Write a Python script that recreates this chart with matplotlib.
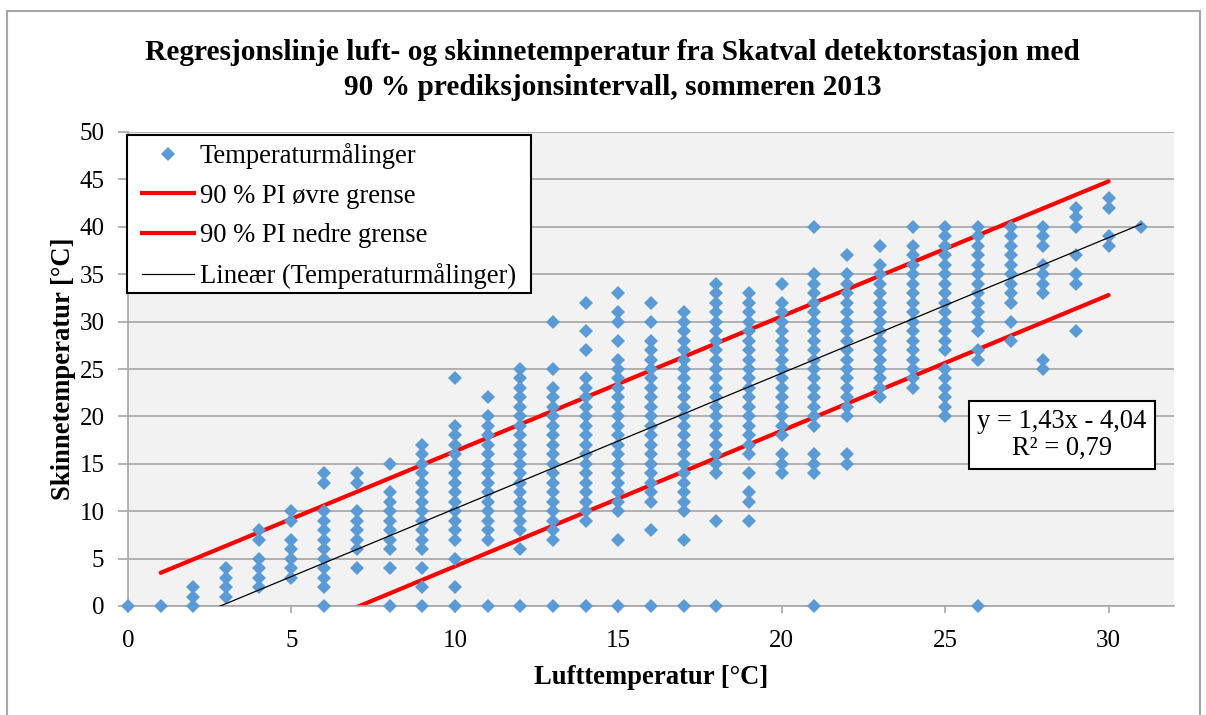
import matplotlib.pyplot as plt
from matplotlib.lines import Line2D
from matplotlib.patches import Rectangle

plt.rcParams['font.family'] = ['Liberation Serif', 'DejaVu Serif']

# luft-temperatur (x) og tilhorende skinnetemperaturer (y) lest av figuren
air_temps = [0, 1, 2, 3, 4, 5, 6, 7, 8, 9, 10, 11, 12, 13, 14, 15,
             16, 17, 18, 19, 20, 21, 22, 23, 24, 25, 26, 27, 28, 29, 30, 31]
rail_temps = [
    [0],
    [0],
    [2, 1, 0],
    [4, 3, 2, 1],
    [8, 7, 5, 4, 3, 2],
    [10, 9, 7, 6, 5, 4, 3],
    [14, 13, 10, 9, 8, 7, 6, 5, 4, 3, 2, 0],
    [14, 13, 10, 9, 8, 7, 6, 4],
    [15, 12, 11, 10, 9, 8, 7, 6, 4, 0],
    [17, 16, 15, 14, 13, 12, 11, 10, 9, 8, 7, 6, 4, 2, 0],
    [24, 19, 18, 17, 16, 15, 14, 13, 12, 11, 10, 9, 8, 7, 5, 2, 0],
    [22, 20, 19, 18, 17, 16, 15, 14, 13, 12, 11, 10, 9, 8, 7, 0],
    [25, 24, 23, 22, 21, 20, 19, 18, 17, 16, 15, 14, 13, 12, 11, 10, 9, 8, 6, 0],
    [30, 25, 23, 22, 21, 20, 19, 18, 17, 16, 15, 14, 13, 12, 11, 10, 9, 8, 7, 0],
    [32, 29, 27, 24, 23, 22, 21, 20, 19, 18, 17, 16, 15, 14, 13, 12, 11, 10, 9, 0],
    [33, 31, 30, 28, 26, 25, 24, 23, 22, 21, 20, 19, 18, 17, 16, 15, 14, 13, 12, 11, 10, 7, 0],
    [32, 30, 28, 27, 26, 25, 24, 23, 22, 21, 20, 19, 18, 17, 16, 15, 14, 13, 12, 11, 8, 0],
    [31, 30, 29, 28, 27, 26, 25, 24, 23, 22, 21, 20, 19, 18, 17, 16, 15, 14, 13, 12, 11, 10, 7, 0],
    [34, 33, 32, 31, 30, 29, 28, 27, 26, 25, 24, 23, 22, 21, 20, 19, 18, 17, 16, 15, 14, 9, 0],
    [33, 32, 31, 30, 29, 28, 27, 26, 25, 24, 23, 22, 21, 20, 19, 18, 17, 16, 14, 12, 11, 9],
    [34, 32, 31, 30, 29, 28, 27, 26, 25, 24, 23, 22, 21, 20, 19, 18, 16, 15, 14],
    [40, 35, 34, 33, 32, 31, 30, 29, 28, 27, 26, 25, 24, 23, 22, 21, 20, 19, 16, 15, 14, 0],
    [37, 35, 34, 33, 32, 31, 30, 29, 28, 27, 26, 25, 24, 23, 22, 21, 20, 16, 15],
    [38, 36, 35, 34, 33, 32, 31, 30, 29, 28, 27, 26, 25, 24, 23, 22],
    [40, 38, 37, 36, 35, 34, 33, 32, 31, 30, 29, 28, 27, 26, 25, 24, 23],
    [40, 39, 38, 37, 36, 35, 34, 33, 32, 31, 30, 29, 28, 27, 25, 24, 23, 22, 21, 20],
    [40, 39, 38, 37, 36, 35, 34, 33, 32, 31, 30, 29, 27, 26, 0],
    [40, 39, 38, 37, 36, 35, 34, 33, 32, 30, 28],
    [40, 39, 38, 36, 35, 34, 33, 26, 25],
    [42, 41, 40, 37, 35, 34, 29],
    [43, 42, 39, 38],
    [40],
]

# 90 % prediksjonsintervall (endepunkter lest av figuren)
pi_x = [1, 30]
pi_upper = [3.5, 44.8]
pi_lower = [-8.7, 32.8]

# trendlinje fra figuren: y = 1,43x - 4,04
trend_x = [0, 31]
trend_slope = 1.43
trend_intercept = -4.04

xs = [a for a, col in zip(air_temps, rail_temps) for _ in col]
ys = [v for col in rail_temps for v in col]
trend_y = [trend_slope * x + trend_intercept for x in trend_x]

blue = '#5B9BD5'
grid_col = '#A6A6A6'
W, H = 1206, 715

fig = plt.figure(figsize=(12.06, 7.15), dpi=100)
ax = fig.add_axes([128 / W, 1 - 606 / H, (1174 - 128) / W, (606 - 132) / H])
ax.set_facecolor('#F2F2F2')

ax.plot(pi_x, pi_upper, color='#FF0000', lw=3, solid_capstyle='round', zorder=2)
ax.plot(pi_x, pi_lower, color='#FF0000', lw=3, solid_capstyle='round', zorder=2)
ax.plot(xs, ys, 'D', color=blue, ms=7.3, mew=0, zorder=3, clip_on=False)
ax.plot(trend_x, trend_y, color='black', lw=0.9, zorder=4)

ax.set_xlim(0, 32)
ax.set_ylim(0, 50)
ax.set_xticks([0, 5, 10, 15, 20, 25, 30])
ax.set_yticks(range(0, 51, 5))
ax.yaxis.grid(True, color=grid_col, lw=1.2)
ax.set_axisbelow(True)
for s in ['top', 'right']:
    ax.spines[s].set_visible(False)
for s in ['left', 'bottom']:
    ax.spines[s].set_color(grid_col)
    ax.spines[s].set_linewidth(1.2)
ax.tick_params(axis='both', colors=grid_col, labelcolor='black', labelsize=18, width=1.2)
ax.tick_params(axis='y', length=7, pad=10)
ax.tick_params(axis='x', length=5, pad=12)

ax.set_xlabel('Lufttemperatur [°C]', fontsize=19.2, fontweight='bold', labelpad=10)
ax.set_ylabel('Skinnetemperatur [°C]', fontsize=19.2, fontweight='bold', labelpad=2.5)

fig.text(0.508, 0.902, 'Regresjonslinje luft- og skinnetemperatur fra Skatval detektorstasjon med\n'
         '90 % prediksjonsintervall, sommeren 2013', ha='center', va='center',
         fontsize=21.2, fontweight='bold', linespacing=1.36)

# legend box drawn by hand so the padding matches the original
ax.add_patch(Rectangle((127 / W, 1 - 293 / H), (531 - 127) / W, (293 - 135) / H,
                       transform=fig.transFigure, fc='white', ec='black', lw=1.5,
                       zorder=5, clip_on=False))

handles = [
    Line2D([], [], marker='D', ls='none', color=blue, ms=7.3, mew=0),
    Line2D([], [], color='#FF0000', lw=3),
    Line2D([], [], color='#FF0000', lw=3),
    Line2D([], [], color='black', lw=0.9),
]
labels = ['Temperaturmålinger', '90 % PI øvre grense', '90 % PI nedre grense',
          'Lineær (Temperaturmålinger)']
leg = ax.legend(handles, labels, loc='upper left', bbox_to_anchor=(6 / 1046, 1 - 3 / 474),
                borderaxespad=0, fontsize=19.2, frameon=False,
                handlelength=1.95, handletextpad=0.22,
                labelspacing=0.55, borderpad=0.3)
leg.set_zorder(6)

ax.text(0.893, 0.361, 'y = 1,43x - 4,04\nR² = 0,79', transform=ax.transAxes,
        ha='center', va='center', fontsize=19.1, linespacing=1.1,
        bbox=dict(boxstyle='square,pad=0.3', fc='white', ec='black', lw=1.5), zorder=5)

fig.patches.append(Rectangle((7 / W, -0.01), (1200 - 7) / W, (H - 11) / H + 0.01,
                             transform=fig.transFigure, fill=False, ec='#A6A6A6', lw=1.5))

fig.savefig('out.png', dpi=100)
